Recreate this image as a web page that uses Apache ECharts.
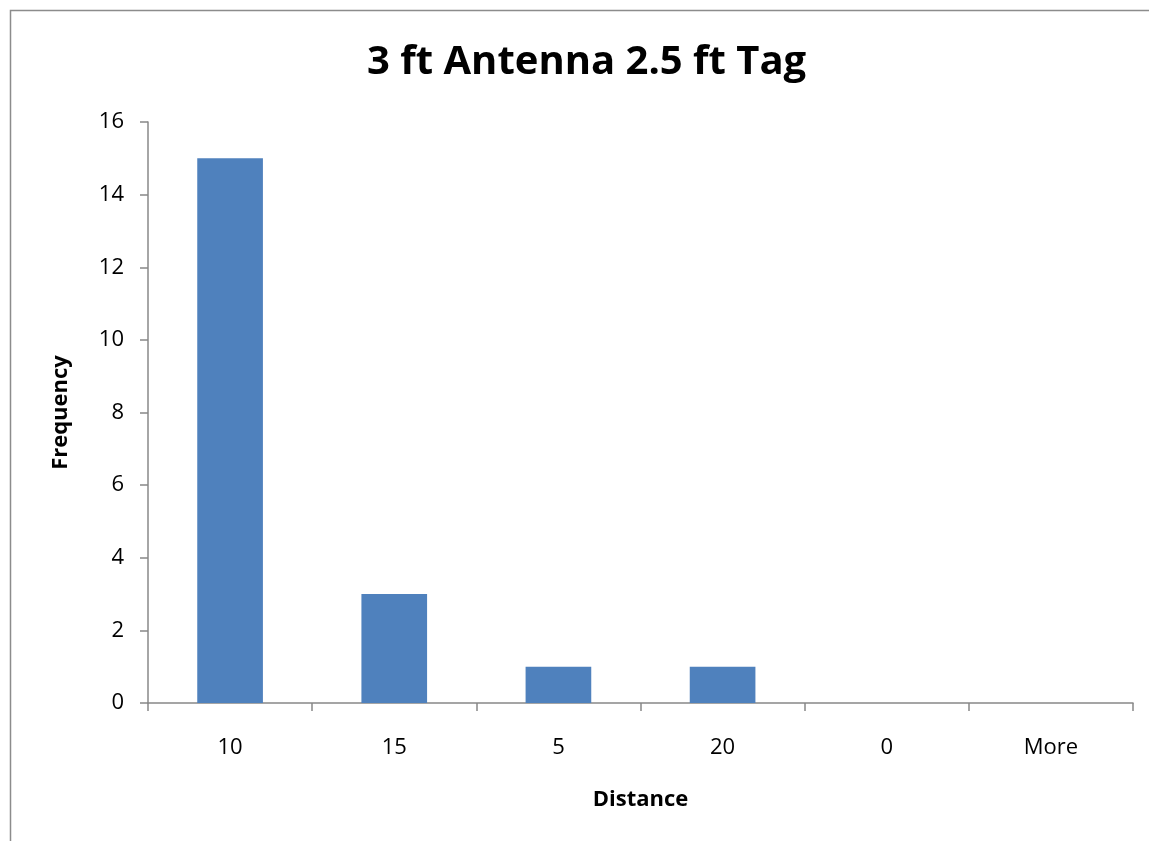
<!DOCTYPE html>
<html>
<head>
<meta charset="utf-8">
<script src="https://cdn.jsdelivr.net/npm/echarts@6/dist/echarts.min.js"></script>
<style>
  html, body { margin: 0; padding: 0; background: #fff; }
  #container { width: 1149px; height: 841px; }
</style>
</head>
<body>
<div id="container"></div>
<script>
var distances = ['10', '15', '5', '20', '0', 'More'];
var frequency = [15, 3, 1, 1, 0, 0];
var yTicks = { min: 0, max: 16, interval: 2 };

var chart = echarts.init(document.getElementById('container'));
var font = '"Open Sans", "Noto Sans", sans-serif';

var option = {
    animation: false,
    textStyle: { fontFamily: font },
    graphic: [{
        type: 'rect',
        silent: true,
        shape: { x: 10.5, y: 10.5, width: 1200, height: 900 },
        style: { fill: 'none', stroke: '#8c8c8c', lineWidth: 1.5 }
    }],
    title: {
        text: '3 ft Antenna 2.5 ft Tag',
        left: 362,
        top: 38,
        textStyle: { fontFamily: font, fontSize: 40, fontWeight: 'bold', color: '#000' }
    },
    grid: { left: 148, right: 16, top: 122, bottom: 138 },
    xAxis: {
        type: 'category',
        data: distances,
        name: 'Distance',
        nameLocation: 'middle',
        nameGap: 86,
        nameTextStyle: { fontFamily: font, fontSize: 22, fontWeight: 'bold', color: '#000' },
        axisLine: { lineStyle: { color: '#888', width: 1.5 } },
        axisTick: { show: true, length: 8, inside: false, lineStyle: { color: '#888', width: 1.5 } },
        axisLabel: { fontFamily: font, fontSize: 22, color: '#000', margin: 34 },
        splitLine: { show: false }
    },
    yAxis: {
        type: 'value',
        min: yTicks.min,
        max: yTicks.max,
        interval: yTicks.interval,
        name: 'Frequency',
        nameLocation: 'middle',
        nameGap: 76,
        nameRotate: 90,
        nameTextStyle: { fontFamily: font, fontSize: 22, fontWeight: 'bold', color: '#000' },
        axisLine: { show: true, lineStyle: { color: '#888', width: 1.5 } },
        axisTick: { show: true, length: 8, lineStyle: { color: '#888', width: 1.5 } },
        axisLabel: { fontFamily: font, fontSize: 22, color: '#000', margin: 24 },
        splitLine: { show: false }
    },
    series: [{
        name: 'Frequency',
        type: 'bar',
        data: frequency,
        barWidth: '40%',
        itemStyle: { color: '#4f81bd' }
    }]
};
chart.setOption(option);
</script>
</body>
</html>
